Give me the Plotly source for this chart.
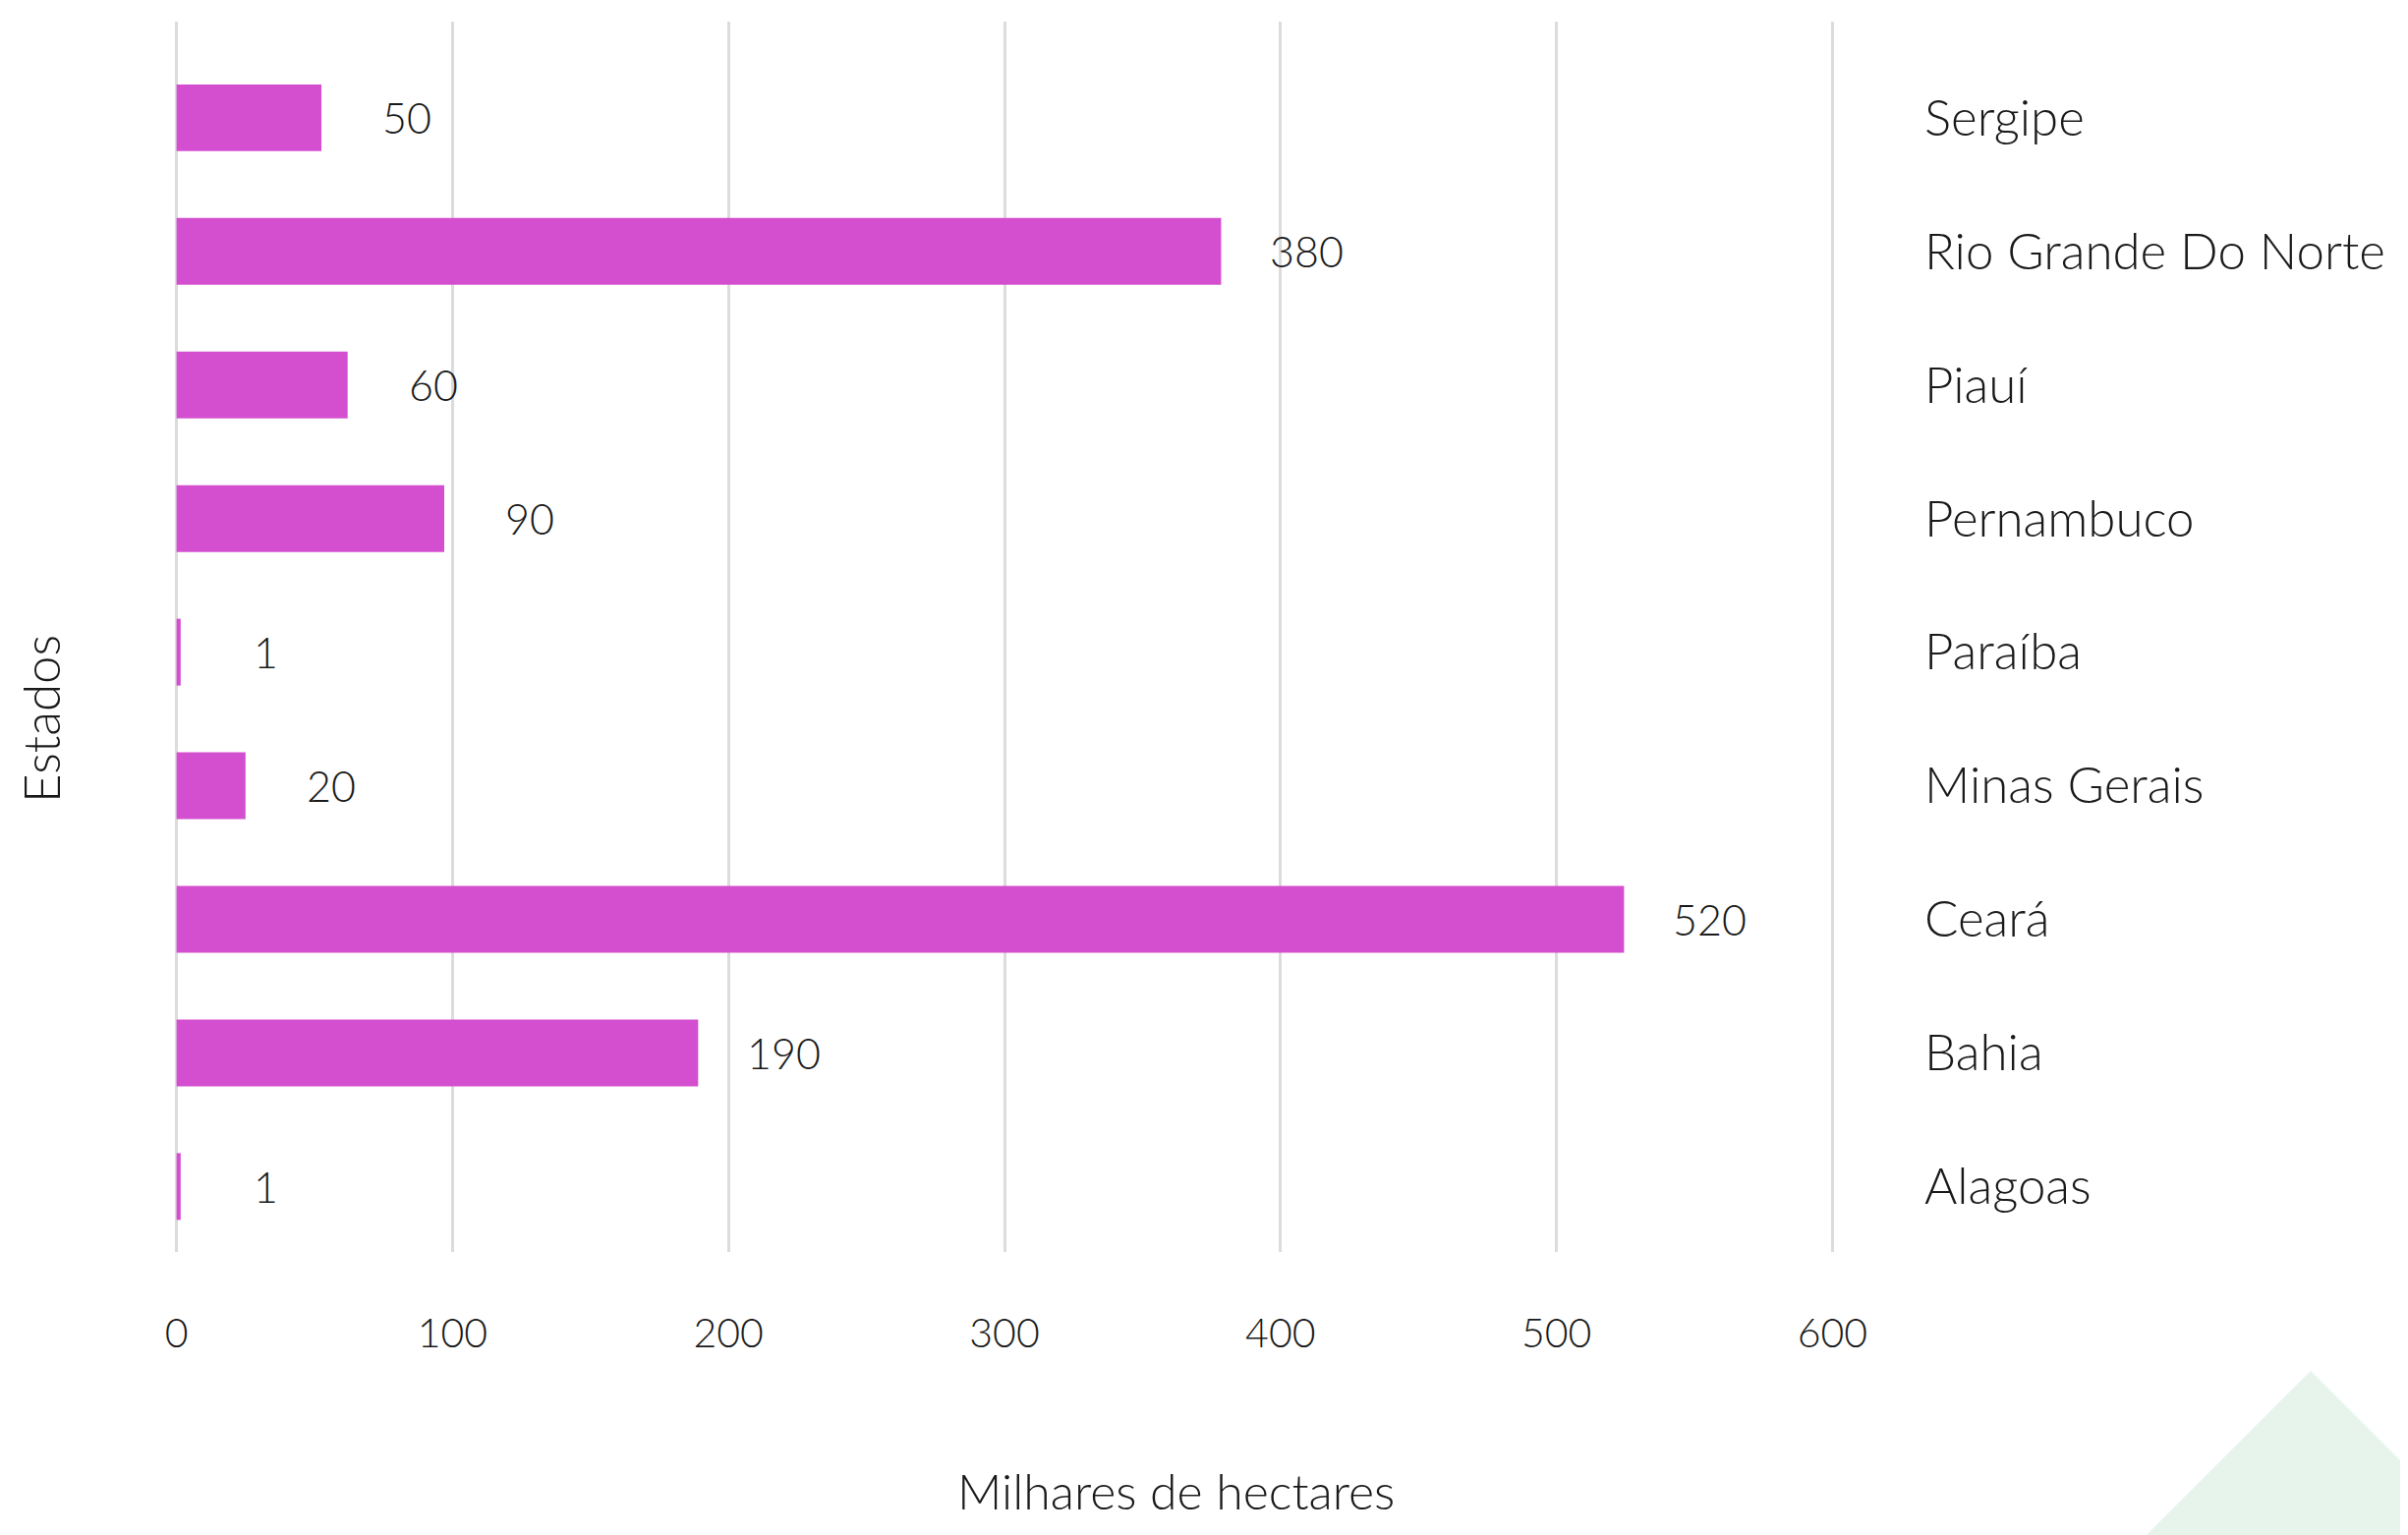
"""Área plantada por estado (milhares de hectares) - barras horizontais"""
import plotly.graph_objects as go

ESTADOS = ["Alagoas", "Bahia", "Ceará", "Minas Gerais", "Paraíba",
           "Pernambuco", "Piauí", "Rio Grande Do Norte", "Sergipe"]
VALORES = [1.5, 189, 524.5, 25, 1.5, 97, 62, 378.5, 52.5]
ROTULOS = ["1", "190", "520", "20", "1", "90", "60", "380", "50"]
X_TICKS = [0, 100, 200, 300, 400, 500, 600]

FONTE = "Lato"
COR_TEXTO = "#1a1a1a"
COR_BARRA = "#D44FD0"
COR_GRADE = "#DCDCDC"

fig = go.Figure()
fig.add_trace(go.Bar(
    x=VALORES,
    y=ESTADOS,
    orientation="h",
    marker=dict(color=COR_BARRA, line=dict(width=0)),
    hoverinfo="x+y",
))

for valor, estado, rotulo in zip(VALORES, ESTADOS, ROTULOS):
    fig.add_annotation(x=valor, y=estado, text=rotulo, showarrow=False,
                       xanchor="center", xshift=87,
                       font=dict(family=FONTE, size=43, color=COR_TEXTO,
                                 weight=300))

fig.add_annotation(text="Estados", xref="paper", yref="paper",
                   x=-0.0778, y=0.433, xanchor="center", yanchor="middle",
                   textangle=-90, showarrow=False,
                   font=dict(family=FONTE, size=51, color=COR_TEXTO,
                             weight=300))
fig.add_annotation(text="Milhares de hectares", xref="paper", yref="paper",
                   x=0.603, y=-0.194, xanchor="center", yanchor="middle",
                   showarrow=False,
                   font=dict(family=FONTE, size=50, color=COR_TEXTO,
                             weight=300))

# triangulo decorativo no canto inferior direito
fig.add_shape(type="path", xref="paper", yref="paper", layer="below",
              path=("M 1.1804 -0.2364 L 1.2836 -0.0966 L 1.3467 -0.1821 "
                    "L 1.3467 -0.2364 Z"),
              fillcolor="#E6F4EC", line=dict(width=0))

fig.update_xaxes(
    range=[-2, 602],
    tickvals=X_TICKS,
    showgrid=True, gridcolor=COR_GRADE, gridwidth=3,
    zeroline=True, zerolinecolor=COR_GRADE, zerolinewidth=3,
    showline=False, ticks="",
    ticklabelstandoff=55,
    tickfont=dict(family=FONTE, size=41, color=COR_TEXTO, weight=300),
)
fig.update_yaxes(
    side="right",
    range=[-0.49, 8.72],
    showgrid=False, showline=False, ticks="",
    ticklabelstandoff=87,
    tickfont=dict(family=FONTE, size=51, color=COR_TEXTO, weight=300),
)

fig.update_layout(
    width=2450, height=1562,
    margin=dict(l=166, r=588, t=14, b=296),
    bargap=0.5,
    plot_bgcolor="white", paper_bgcolor="white",
    showlegend=False,
)

fig.write_html("out.html")
